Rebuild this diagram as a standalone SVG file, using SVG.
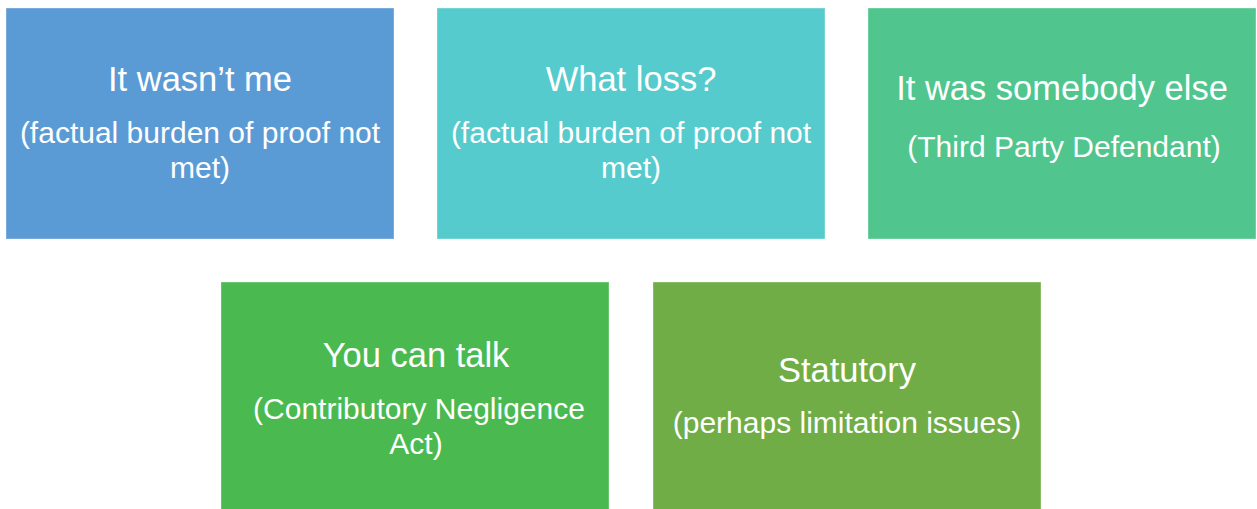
<svg xmlns="http://www.w3.org/2000/svg" width="1257" height="509" viewBox="0 0 1257 509">
<style>
.box{stroke:#ffffff;stroke-opacity:0.35;stroke-width:1}
.t{font-family:"Liberation Sans",Arial,sans-serif;fill:#ffffff;text-anchor:middle}
.h{font-size:34.5px}
.s{font-size:30px}
</style>
<rect width="1257" height="509" fill="#ffffff"/>
<g id="connectors"></g>
<g id="node1">
<rect class="box" x="6" y="8" width="388" height="231" fill="#5B9BD5"/>
<text class="t h" x="200" y="91">It wasn’t me</text>
<text class="t s" x="200" y="143">(factual burden of proof not</text>
<text class="t s" x="200" y="177.5">met)</text>
</g>
<g id="node2">
<rect class="box" x="437" y="8" width="388" height="231" fill="#56CBCD"/>
<text class="t h" x="631" y="91">What loss?</text>
<text class="t s" x="631" y="143">(factual burden of proof not</text>
<text class="t s" x="631" y="177.5">met)</text>
</g>
<g id="node3">
<rect class="box" x="868" y="8" width="388" height="231" fill="#50C58E"/>
<text class="t h" x="1062" y="100">It was somebody else</text>
<text class="t s" x="1064" y="157">(Third Party Defendant)</text>
</g>
<g id="node4">
<rect class="box" x="221" y="282" width="388" height="231" fill="#4ABA50"/>
<text class="t h" x="416" y="367">You can talk</text>
<text class="t s" x="419" y="419">(Contributory Negligence</text>
<text class="t s" x="416" y="453.5">Act)</text>
</g>
<g id="node5">
<rect class="box" x="653" y="282" width="388" height="231" fill="#70AD47"/>
<text class="t h" x="847" y="382">Statutory</text>
<text class="t s" x="847" y="433">(perhaps limitation issues)</text>
</g>
</svg>
